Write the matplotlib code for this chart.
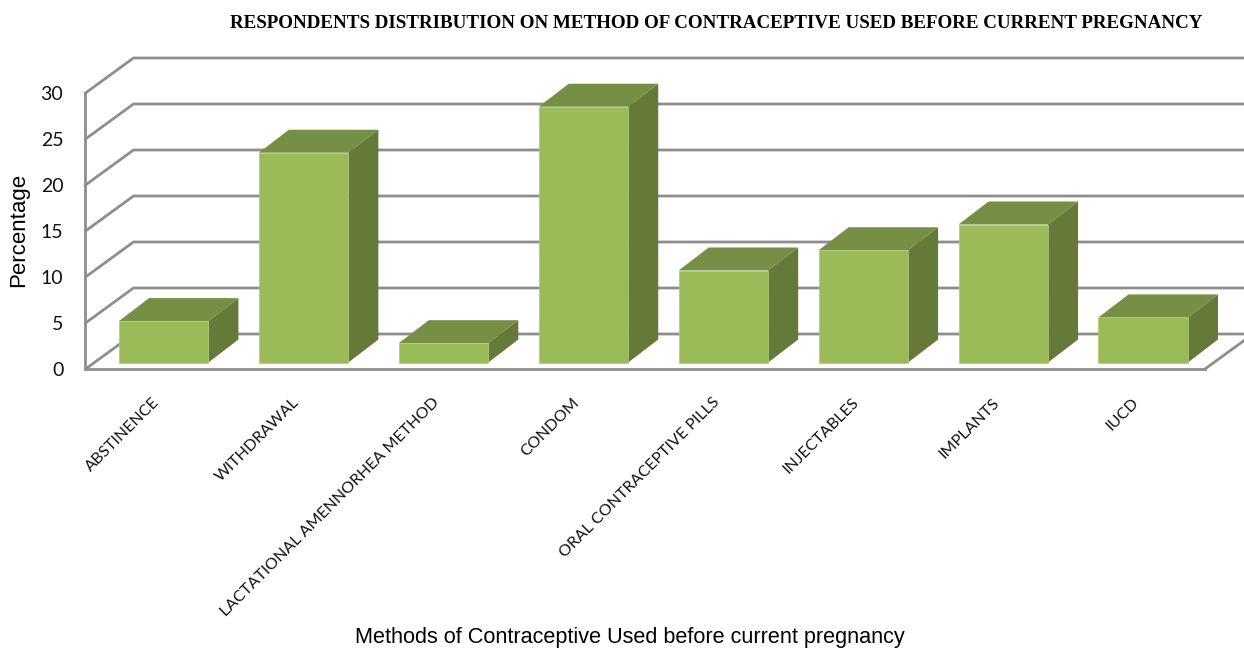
#!/usr/bin/env python3

import matplotlib
matplotlib.use('Agg')
import matplotlib.pyplot as plt
from matplotlib.transforms import ScaledTranslation
import numpy as np

categories = ["ABSTINENCE", "WITHDRAWAL", "LACTATIONAL AMENNORHEA METHOD", "CONDOM",
              "ORAL CONTRACEPTIVE PILLS", "INJECTABLES", "IMPLANTS", "IUCD"]
percent = [4.5, 22.8, 2.1, 27.8, 10.0, 12.2, 15.0, 4.9]
y_ticks = [0, 5, 10, 15, 20, 25, 30]

W, H = 1244, 648
# plot box in pixels
left, right, bottom, top = 85.5, 1205.0, 369.0, 93.0

FRONT = "#9BBB59"
TOP = "#778F45"
SIDE = "#657938"
GRID = "#8E8E8E"

fig = plt.figure(figsize=(W / 100, H / 100), dpi=100)
ax = fig.add_axes([left / W, 1 - bottom / H, (right - left) / W, (bottom - top) / H])
ax.set_xlim(-0.5, len(categories) - 0.5)
ax.set_ylim(0, 30)
ax.patch.set_visible(False)

px_x = (right - left) / len(categories)
px_y = (bottom - top) / 30.0

# depth of the chart box and of the bars, in data units
wall_dx, wall_dy = 48 / px_x, 35 / px_y
bar_dx, bar_dy = 30 / px_x, 23 / px_y
bar_w = 89.5 / px_x
bar_shift = 8.2 / px_x
bar_base = 6.5 / px_y

# back wall and left wall gridlines
for v in y_ticks:
    x_end = -0.5 + (1300 - left) / px_x
    ax.plot([-0.5, -0.5 + wall_dx, x_end], [v, v + wall_dy, v + wall_dy], color=GRID, lw=2.0,
            clip_on=False, zorder=1, solid_joinstyle="miter")
# right edge of the floor
ax.plot([7.5, 7.5 + wall_dx], [0, wall_dy], color=GRID, lw=2.0, clip_on=False, zorder=1)

xs = np.arange(len(categories)) + bar_shift
for x, val in zip(xs, percent):
    x0, x1 = x - bar_w / 2, x + bar_w / 2
    y0, y1 = bar_base, bar_base + val
    ax.fill([x0, x1, x1 + bar_dx, x0 + bar_dx], [y1, y1, y1 + bar_dy, y1 + bar_dy],
            color=TOP, lw=0, clip_on=False, zorder=3)
    ax.fill([x1, x1 + bar_dx, x1 + bar_dx, x1], [y0, y0 + bar_dy, y1 + bar_dy, y1],
            color=SIDE, lw=0, clip_on=False, zorder=3)
ax.bar(xs, percent, width=bar_w, bottom=bar_base, color=FRONT, edgecolor="#AFC97A", linewidth=0.5,
       zorder=4, clip_on=False)

for s in ["top", "right"]:
    ax.spines[s].set_visible(False)
for s in ["left", "bottom"]:
    ax.spines[s].set_color(GRID)
    ax.spines[s].set_linewidth(2.0)
    ax.spines[s].set_zorder(2)

ax.set_yticks(y_ticks)
ax.tick_params(axis="y", length=0, pad=16, labelsize=14, labelcolor="#111111")
for lab in ax.get_yticklabels():
    lab.set_family("Lato")

ax.set_xticks(np.arange(len(categories)))
ax.set_xticklabels(categories, rotation=45, ha="right", rotation_mode="anchor",
                   family="Lato", fontsize=11.5, color="#111111")
ax.tick_params(axis="x", length=0, pad=19)
nudge = ScaledTranslation(-3 / 100, 0, fig.dpi_scale_trans)
for lab in ax.get_xticklabels():
    lab.set_transform(lab.get_transform() + nudge)

fig.text(716 / W, 1 - 23.5 / H, "RESPONDENTS DISTRIBUTION ON METHOD OF CONTRACEPTIVE USED BEFORE CURRENT PREGNANCY",
         family="Liberation Serif", weight="bold", fontsize=13.7, ha="center", va="center", color="black")
fig.text(19 / W, 1 - 230 / H, "Percentage", family="Liberation Sans", fontsize=16,
         rotation=90, ha="center", va="center", color="black")
fig.text(629.5 / W, 1 - 637.5 / H, "Methods of Contraceptive Used before current pregnancy",
         family="Liberation Sans", fontsize=15.6, ha="center", va="center", color="black")

plt.savefig("out.png", dpi=100)
